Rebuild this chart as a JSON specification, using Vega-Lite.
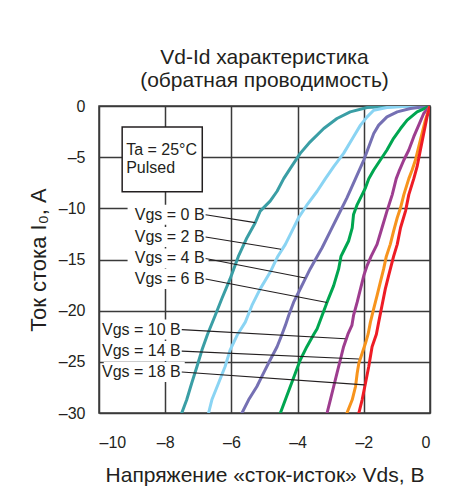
{
  "$schema": "https://vega.github.io/schema/vega-lite/v6.json",
  "width": 331,
  "height": 307,
  "autosize": "none",
  "padding": {"left": 99, "top": 106, "right": 27, "bottom": 73},
  "background": "white",
  "config": {
    "font": "Liberation Sans",
    "view": {"stroke": "#3a3a3a", "strokeWidth": 1.5}
  },
  "title": {
    "text": ["Vd-Id характеристика", "(обратная проводимость)"],
    "fontSize": 21,
    "fontWeight": "normal",
    "color": "#231f20",
    "lineHeight": 23,
    "offset": 7,
    "anchor": "middle"
  },
  "datasets": {
    "curves": [
      {"vgs": "0", "vds": 0, "id": 0}, {"vgs": "0", "vds": -1.0, "id": -0.05}, {"vgs": "0", "vds": -1.6, "id": -0.1}, {"vgs": "0", "vds": -1.9, "id": -0.15},
      {"vgs": "0", "vds": -2.41, "id": -0.57}, {"vgs": "0", "vds": -2.81, "id": -1.22}, {"vgs": "0", "vds": -3.21, "id": -2.2}, {"vgs": "0", "vds": -3.62, "id": -3.5},
      {"vgs": "0", "vds": -3.92, "id": -4.63}, {"vgs": "0", "vds": -4.22, "id": -6.09}, {"vgs": "0", "vds": -4.42, "id": -7.1}, {"vgs": "0", "vds": -4.62, "id": -8.33},
      {"vgs": "0", "vds": -4.83, "id": -9.3}, {"vgs": "0", "vds": -5.13, "id": -10.27}, {"vgs": "0", "vds": -5.28, "id": -11.41}, {"vgs": "0", "vds": -5.53, "id": -12.87},
      {"vgs": "0", "vds": -5.79, "id": -14.7}, {"vgs": "0", "vds": -6.04, "id": -16.9}, {"vgs": "0", "vds": -6.29, "id": -18.84}, {"vgs": "0", "vds": -6.49, "id": -20.47},
      {"vgs": "0", "vds": -6.72, "id": -22.3}, {"vgs": "0", "vds": -6.89, "id": -23.85}, {"vgs": "0", "vds": -7.04, "id": -25.46}, {"vgs": "0", "vds": -7.2, "id": -27.09},
      {"vgs": "0", "vds": -7.35, "id": -28.71}, {"vgs": "0", "vds": -7.5, "id": -30},

      {"vgs": "2", "vds": 0, "id": 0}, {"vgs": "2", "vds": -0.8, "id": -0.05}, {"vgs": "2", "vds": -1.3, "id": -0.15}, {"vgs": "2", "vds": -1.7, "id": -0.41},
      {"vgs": "2", "vds": -1.9, "id": -1.06}, {"vgs": "2", "vds": -2.1, "id": -1.87}, {"vgs": "2", "vds": -2.31, "id": -3.0}, {"vgs": "2", "vds": -2.61, "id": -4.63},
      {"vgs": "2", "vds": -2.91, "id": -5.93}, {"vgs": "2", "vds": -3.16, "id": -7.1}, {"vgs": "2", "vds": -3.41, "id": -8.33}, {"vgs": "2", "vds": -3.71, "id": -9.63},
      {"vgs": "2", "vds": -3.97, "id": -10.92}, {"vgs": "2", "vds": -4.17, "id": -12.22}, {"vgs": "2", "vds": -4.37, "id": -13.52}, {"vgs": "2", "vds": -4.6, "id": -14.7},
      {"vgs": "2", "vds": -4.83, "id": -16.25}, {"vgs": "2", "vds": -5.13, "id": -17.87}, {"vgs": "2", "vds": -5.38, "id": -19.49}, {"vgs": "2", "vds": -5.58, "id": -21.12},
      {"vgs": "2", "vds": -5.81, "id": -22.3}, {"vgs": "2", "vds": -6.04, "id": -23.85}, {"vgs": "2", "vds": -6.19, "id": -25.46}, {"vgs": "2", "vds": -6.39, "id": -27.09},
      {"vgs": "2", "vds": -6.59, "id": -28.71}, {"vgs": "2", "vds": -6.69, "id": -30},

      {"vgs": "4", "vds": 0, "id": 0}, {"vgs": "4", "vds": -0.59, "id": -0.24}, {"vgs": "4", "vds": -0.99, "id": -0.57}, {"vgs": "4", "vds": -1.3, "id": -1.06},
      {"vgs": "4", "vds": -1.55, "id": -1.87}, {"vgs": "4", "vds": -1.7, "id": -2.68}, {"vgs": "4", "vds": -1.85, "id": -3.98}, {"vgs": "4", "vds": -2.0, "id": -5.28},
      {"vgs": "4", "vds": -2.25, "id": -7.1}, {"vgs": "4", "vds": -2.51, "id": -8.98}, {"vgs": "4", "vds": -2.76, "id": -10.6}, {"vgs": "4", "vds": -3.01, "id": -12.22},
      {"vgs": "4", "vds": -3.26, "id": -13.85}, {"vgs": "4", "vds": -3.41, "id": -14.7}, {"vgs": "4", "vds": -3.62, "id": -15.92}, {"vgs": "4", "vds": -3.77, "id": -16.9},
      {"vgs": "4", "vds": -3.97, "id": -18.2}, {"vgs": "4", "vds": -4.12, "id": -19.17}, {"vgs": "4", "vds": -4.27, "id": -20.47}, {"vgs": "4", "vds": -4.37, "id": -21.44},
      {"vgs": "4", "vds": -4.47, "id": -22.3}, {"vgs": "4", "vds": -4.62, "id": -23.52}, {"vgs": "4", "vds": -4.83, "id": -24.82}, {"vgs": "4", "vds": -5.03, "id": -26.11},
      {"vgs": "4", "vds": -5.23, "id": -27.41}, {"vgs": "4", "vds": -5.48, "id": -28.71}, {"vgs": "4", "vds": -5.68, "id": -30},

      {"vgs": "6", "vds": 0, "id": 0}, {"vgs": "6", "vds": -0.39, "id": -0.57}, {"vgs": "6", "vds": -0.69, "id": -1.38}, {"vgs": "6", "vds": -0.89, "id": -2.2},
      {"vgs": "6", "vds": -1.1, "id": -3.16}, {"vgs": "6", "vds": -1.3, "id": -4.3}, {"vgs": "6", "vds": -1.5, "id": -5.28}, {"vgs": "6", "vds": -1.7, "id": -6.25},
      {"vgs": "6", "vds": -1.85, "id": -7.1}, {"vgs": "6", "vds": -1.95, "id": -8.0}, {"vgs": "6", "vds": -2.05, "id": -8.66}, {"vgs": "6", "vds": -2.2, "id": -9.63},
      {"vgs": "6", "vds": -2.31, "id": -10.6}, {"vgs": "6", "vds": -2.35, "id": -11.9}, {"vgs": "6", "vds": -2.46, "id": -13.19}, {"vgs": "6", "vds": -2.61, "id": -14.17},
      {"vgs": "6", "vds": -2.69, "id": -14.7}, {"vgs": "6", "vds": -2.76, "id": -15.92}, {"vgs": "6", "vds": -2.91, "id": -17.55}, {"vgs": "6", "vds": -3.11, "id": -19.17},
      {"vgs": "6", "vds": -3.26, "id": -20.47}, {"vgs": "6", "vds": -3.41, "id": -21.76}, {"vgs": "6", "vds": -3.51, "id": -22.3}, {"vgs": "6", "vds": -3.72, "id": -23.52},
      {"vgs": "6", "vds": -3.92, "id": -24.82}, {"vgs": "6", "vds": -4.07, "id": -26.11}, {"vgs": "6", "vds": -4.22, "id": -27.41}, {"vgs": "6", "vds": -4.37, "id": -28.71},
      {"vgs": "6", "vds": -4.52, "id": -30},

      {"vgs": "10", "vds": 0, "id": 0}, {"vgs": "10", "vds": -0.19, "id": -0.73}, {"vgs": "10", "vds": -0.34, "id": -1.87}, {"vgs": "10", "vds": -0.49, "id": -3.0},
      {"vgs": "10", "vds": -0.64, "id": -4.3}, {"vgs": "10", "vds": -0.79, "id": -5.28}, {"vgs": "10", "vds": -0.94, "id": -6.42}, {"vgs": "10", "vds": -1.02, "id": -7.1},
      {"vgs": "10", "vds": -1.14, "id": -8.66}, {"vgs": "10", "vds": -1.3, "id": -10.27}, {"vgs": "10", "vds": -1.45, "id": -11.9}, {"vgs": "10", "vds": -1.6, "id": -13.52},
      {"vgs": "10", "vds": -1.78, "id": -14.7}, {"vgs": "10", "vds": -1.9, "id": -15.6}, {"vgs": "10", "vds": -2.0, "id": -16.57}, {"vgs": "10", "vds": -2.1, "id": -17.87},
      {"vgs": "10", "vds": -2.2, "id": -19.17}, {"vgs": "10", "vds": -2.31, "id": -20.47}, {"vgs": "10", "vds": -2.36, "id": -21.44}, {"vgs": "10", "vds": -2.48, "id": -22.3},
      {"vgs": "10", "vds": -2.61, "id": -23.52}, {"vgs": "10", "vds": -2.71, "id": -24.82}, {"vgs": "10", "vds": -2.81, "id": -26.11}, {"vgs": "10", "vds": -2.91, "id": -27.41},
      {"vgs": "10", "vds": -3.01, "id": -28.71}, {"vgs": "10", "vds": -3.11, "id": -30},

      {"vgs": "14", "vds": 0, "id": 0}, {"vgs": "14", "vds": -0.14, "id": -1.38}, {"vgs": "14", "vds": -0.24, "id": -2.68}, {"vgs": "14", "vds": -0.34, "id": -3.98},
      {"vgs": "14", "vds": -0.44, "id": -5.28}, {"vgs": "14", "vds": -0.54, "id": -6.25}, {"vgs": "14", "vds": -0.64, "id": -7.1}, {"vgs": "14", "vds": -0.79, "id": -8.66},
      {"vgs": "14", "vds": -0.89, "id": -9.95}, {"vgs": "14", "vds": -0.99, "id": -10.92}, {"vgs": "14", "vds": -1.1, "id": -12.22}, {"vgs": "14", "vds": -1.2, "id": -13.52},
      {"vgs": "14", "vds": -1.32, "id": -14.7}, {"vgs": "14", "vds": -1.4, "id": -15.92}, {"vgs": "14", "vds": -1.5, "id": -17.22}, {"vgs": "14", "vds": -1.6, "id": -18.52},
      {"vgs": "14", "vds": -1.7, "id": -19.81}, {"vgs": "14", "vds": -1.8, "id": -21.12}, {"vgs": "14", "vds": -1.87, "id": -22.3}, {"vgs": "14", "vds": -1.95, "id": -23.19},
      {"vgs": "14", "vds": -2.05, "id": -24.17}, {"vgs": "14", "vds": -2.15, "id": -25.14}, {"vgs": "14", "vds": -2.2, "id": -26.11}, {"vgs": "14", "vds": -2.25, "id": -27.41},
      {"vgs": "14", "vds": -2.35, "id": -28.71}, {"vgs": "14", "vds": -2.51, "id": -30},

      {"vgs": "18", "vds": 0, "id": 0}, {"vgs": "18", "vds": -0.09, "id": -1.06}, {"vgs": "18", "vds": -0.19, "id": -2.68}, {"vgs": "18", "vds": -0.29, "id": -4.3},
      {"vgs": "18", "vds": -0.39, "id": -5.93}, {"vgs": "18", "vds": -0.49, "id": -7.1}, {"vgs": "18", "vds": -0.64, "id": -8.66}, {"vgs": "18", "vds": -0.74, "id": -10.27},
      {"vgs": "18", "vds": -0.89, "id": -11.9}, {"vgs": "18", "vds": -0.99, "id": -13.52}, {"vgs": "18", "vds": -1.1, "id": -14.7}, {"vgs": "18", "vds": -1.25, "id": -16.57},
      {"vgs": "18", "vds": -1.35, "id": -17.87}, {"vgs": "18", "vds": -1.45, "id": -19.49}, {"vgs": "18", "vds": -1.55, "id": -21.12}, {"vgs": "18", "vds": -1.62, "id": -22.3},
      {"vgs": "18", "vds": -1.75, "id": -23.52}, {"vgs": "18", "vds": -1.85, "id": -25.46}, {"vgs": "18", "vds": -1.95, "id": -27.09}, {"vgs": "18", "vds": -2.05, "id": -28.71},
      {"vgs": "18", "vds": -2.15, "id": -30}
    ],
    "labels": [
      {"text": "Vgs = 0 В", "x": -6.78, "y": -10.63, "x2": -5.28, "y2": -11.4},
      {"text": "Vgs = 2 В", "x": -6.78, "y": -12.8, "x2": -4.5, "y2": -14.0},
      {"text": "Vgs = 4 В", "x": -6.78, "y": -14.9, "x2": -3.77, "y2": -16.8},
      {"text": "Vgs = 6 В", "x": -6.78, "y": -16.9, "x2": -3.11, "y2": -19.2},
      {"text": "Vgs = 10 В", "x": -7.5, "y": -21.85, "x2": -2.56, "y2": -22.74},
      {"text": "Vgs = 14 В", "x": -7.5, "y": -23.95, "x2": -2.15, "y2": -24.72},
      {"text": "Vgs = 18 В", "x": -7.5, "y": -26.0, "x2": -1.98, "y2": -27.25}
    ],
    "box": [
      {"x": -9.3, "x2": -6.88, "y": -2.06, "y2": -8.39}
    ],
    "boxtext": [
      {"text": "Ta = 25°C", "x": -9.18, "y": -4.3},
      {"text": "Pulsed", "x": -9.18, "y": -6.03}
    ]
  },
  "layer": [
    {
      "data": {"name": "labels"},
      "mark": {"type": "rect", "fill": "white", "stroke": null, "xOffset": -78, "x2Offset": 3, "yOffset": -10, "y2Offset": 10},
      "encoding": {
        "x": {"field": "x", "type": "quantitative", "scale": {"domain": [-10, 0], "nice": false}},
        "x2": {"field": "x"},
        "y": {"field": "y", "type": "quantitative", "scale": {"domain": [-30, 0], "nice": false}},
        "y2": {"field": "y"}
      }
    },
    {
      "data": {"name": "curves"},
      "mark": {"type": "line", "strokeWidth": 3, "strokeJoin": "round", "strokeCap": "round", "clip": true},
      "encoding": {
        "x": {
          "field": "vds", "type": "quantitative",
          "scale": {"domain": [-10, 0], "nice": false},
          "axis": {
            "values": [-10, -8, -6, -4, -2, 0],
            "grid": true, "gridColor": "#3a3a3a", "gridWidth": 1.5,
            "ticks": false, "domain": false,
            "labelFontSize": 16, "labelColor": "#231f20", "labelPadding": 21,
            "labelExpr": "replace(datum.label, '−', '–')",
            "title": "Напряжение «сток-исток» Vds, В",
            "titleFontSize": 21, "titleFontWeight": "normal", "titleColor": "#231f20", "titlePadding": 14
          }
        },
        "y": {
          "field": "id", "type": "quantitative",
          "scale": {"domain": [-30, 0], "nice": false},
          "axis": {
            "values": [0, -5, -10, -15, -20, -25, -30],
            "grid": true, "gridColor": "#3a3a3a", "gridWidth": 1.5,
            "ticks": false, "domain": false,
            "labelFontSize": 16, "labelColor": "#231f20", "labelPadding": 14,
            "labelExpr": "replace(datum.label, '−', '–')",
            "title": "Ток стока I₀, А",
            "titleFontSize": 22, "titleFontWeight": "normal", "titleColor": "#231f20", "titlePadding": 8
          }
        },
        "order": {"field": "id", "sort": "descending"},
        "color": {
          "field": "vgs", "type": "nominal",
          "scale": {
            "domain": ["0", "2", "4", "6", "10", "14", "18"],
            "range": ["#3a9ea5", "#8ad4f3", "#7570b3", "#00a650", "#9e3d8f", "#f7941d", "#ee1c25"]
          },
          "legend": null
        }
      }
    },
    {
      "data": {"name": "labels"},
      "mark": {"type": "rule", "color": "#231f20", "strokeWidth": 1.1},
      "encoding": {
        "x": {"field": "x", "type": "quantitative"},
        "y": {"field": "y", "type": "quantitative"},
        "x2": {"field": "x2"},
        "y2": {"field": "y2"}
      }
    },
    {
      "data": {"name": "labels"},
      "mark": {"type": "text", "align": "right", "baseline": "middle", "fontSize": 16, "color": "#231f20", "dx": -1},
      "encoding": {
        "x": {"field": "x", "type": "quantitative"},
        "y": {"field": "y", "type": "quantitative"},
        "text": {"field": "text"}
      }
    },
    {
      "data": {"name": "box"},
      "mark": {"type": "rect", "fill": "white", "stroke": "#231f20", "strokeWidth": 1.5},
      "encoding": {
        "x": {"field": "x", "type": "quantitative"},
        "x2": {"field": "x2"},
        "y": {"field": "y", "type": "quantitative"},
        "y2": {"field": "y2"}
      }
    },
    {
      "data": {"name": "boxtext"},
      "mark": {"type": "text", "align": "left", "baseline": "middle", "fontSize": 16, "color": "#231f20"},
      "encoding": {
        "x": {"field": "x", "type": "quantitative"},
        "y": {"field": "y", "type": "quantitative"},
        "text": {"field": "text"}
      }
    }
  ]
}
